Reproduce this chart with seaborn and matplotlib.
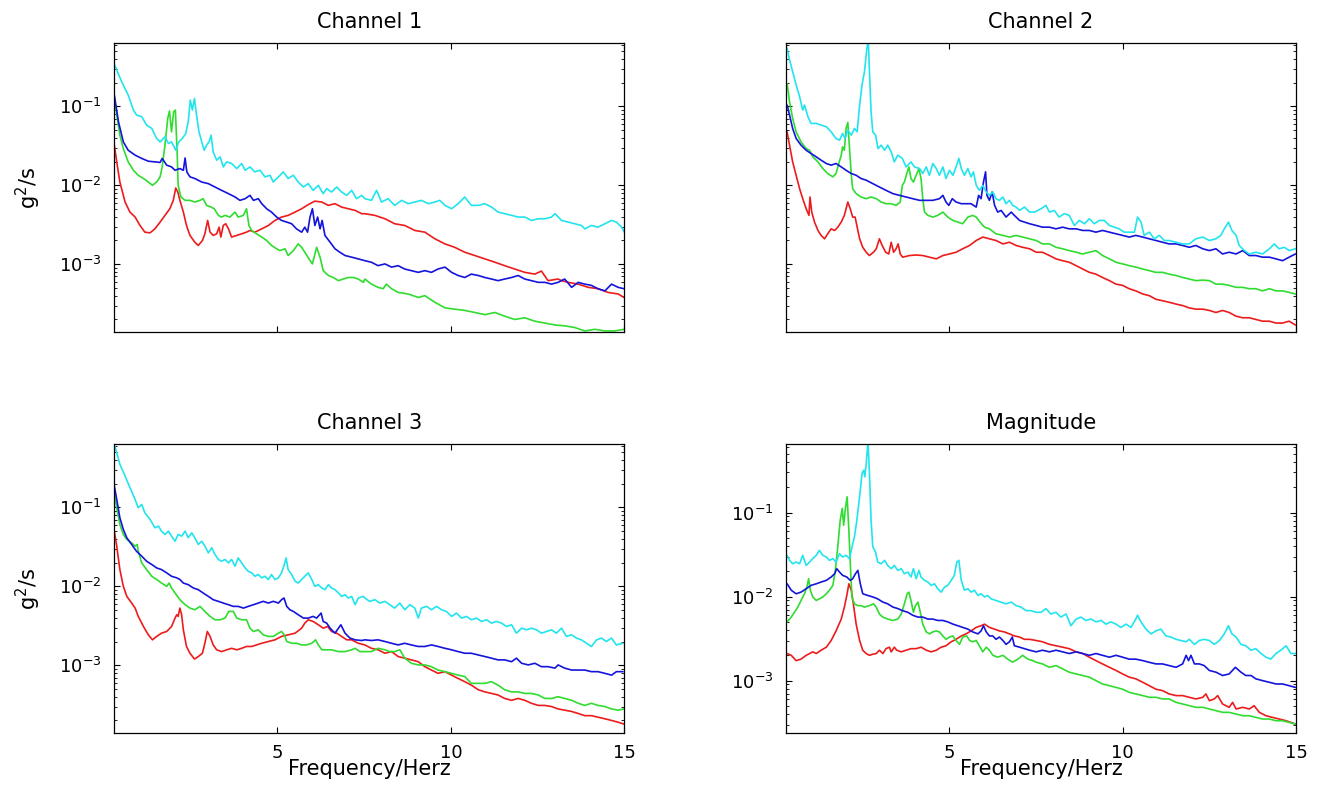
import numpy as np
import pandas as pd
import matplotlib
matplotlib.use("Agg")
import matplotlib.pyplot as plt
import matplotlib.ticker as mticker
import seaborn as sns

# ---------------- data: (frequency in Hz, PSD in g^2/s) ----------------
ch1_cyan = [(0.30,0.342),(0.51,0.206),(0.70,0.139),(0.85,0.0898),(0.94,0.0776),(1.09,0.074),(1.23,0.0579),(1.38,0.0525),(1.52,0.0392),(1.62,0.0355),(1.76,0.0412),(1.86,0.0339),(1.95,0.0355),(2.07,0.0278),(2.16,0.0355),(2.26,0.0392),(2.36,0.0454),(2.43,0.0638),(2.49,0.120),(2.55,0.0898),(2.61,0.126),(2.67,0.0776),(2.74,0.0476),(2.82,0.0355),(2.89,0.0278),(2.96,0.0323),(3.03,0.0355),(3.09,0.0432),(3.15,0.0265),(3.25,0.0208),(3.35,0.0229),(3.44,0.0171),(3.54,0.0198),(3.68,0.0189),(3.83,0.0163),(3.97,0.0189),(4.07,0.0155),(4.21,0.0171),(4.35,0.0148),(4.50,0.0155),(4.64,0.0128),(4.79,0.0134),(4.88,0.0110),(5.03,0.0128),(5.17,0.0148),(5.31,0.0122),(5.46,0.0134),(5.60,0.0110),(5.75,0.00952),(5.89,0.0105),(6.03,0.00864),(6.18,0.0100),(6.32,0.00784),(6.42,0.00907),(6.56,0.00823),(6.71,0.00952),(6.85,0.00823),(7.00,0.00746),(7.14,0.00864),(7.28,0.00677),(7.43,0.00746),(7.52,0.00677),(7.71,0.00645),(7.86,0.00864),(8.00,0.00614),(8.19,0.00677),(8.38,0.00557),(8.58,0.00645),(8.77,0.00585),(8.96,0.00614),(9.15,0.00645),(9.35,0.00585),(9.54,0.00614),(9.68,0.00645),(9.83,0.00557),(10.02,0.00505),(10.21,0.00585),(10.40,0.00711),(10.59,0.00557),(10.79,0.00557),(10.98,0.00585),(11.17,0.0053),(11.36,0.00458),(11.55,0.00437),(11.75,0.00416),(11.94,0.00396),(12.13,0.00396),(12.32,0.00359),(12.52,0.00377),(12.71,0.00377),(12.90,0.00396),(13.00,0.00437),(13.19,0.00359),(13.38,0.00342),(13.57,0.00326),(13.76,0.0031),(13.86,0.00281),(14.05,0.0031),(14.24,0.00295),(14.44,0.00326),(14.63,0.00359),(14.77,0.00342),(14.92,0.00295),(15.0,0.00255)]
ch1_blue = [(0.30,0.139),(0.42,0.0638),(0.56,0.0355),(0.70,0.0278),(0.90,0.0241),(1.09,0.0219),(1.28,0.0202),(1.47,0.0198),(1.62,0.0195),(1.68,0.0219),(1.81,0.0180),(1.95,0.0171),(2.05,0.0155),(2.19,0.0163),(2.29,0.0155),(2.34,0.0222),(2.39,0.0148),(2.48,0.0128),(2.62,0.0122),(2.82,0.0110),(3.01,0.0105),(3.20,0.00952),(3.39,0.00864),(3.59,0.00784),(3.78,0.00711),(3.92,0.00645),(4.07,0.00677),(4.21,0.00746),(4.31,0.00645),(4.45,0.00677),(4.55,0.00585),(4.69,0.00505),(4.83,0.00458),(4.98,0.00396),(5.12,0.00359),(5.27,0.00342),(5.41,0.00326),(5.55,0.00281),(5.70,0.00255),(5.79,0.00295),(5.87,0.00255),(5.94,0.00396),(6.01,0.00505),(6.08,0.0031),(6.16,0.00396),(6.23,0.00281),(6.29,0.00359),(6.37,0.00232),(6.52,0.0019),(6.66,0.00157),(6.80,0.00142),(6.95,0.00129),(7.14,0.00123),(7.33,0.00117),(7.52,0.00111),(7.71,0.00106),(7.90,0.00096),(8.10,0.00101),(8.29,0.00092),(8.48,0.00096),(8.67,0.00087),(8.86,0.00083),(9.06,0.00079),(9.25,0.00083),(9.44,0.00079),(9.63,0.00087),(9.83,0.00092),(10.02,0.00079),(10.21,0.00072),(10.40,0.00068),(10.59,0.00075),(10.79,0.00072),(10.98,0.00068),(11.17,0.00065),(11.36,0.00062),(11.55,0.00065),(11.75,0.00068),(11.94,0.00072),(12.13,0.00065),(12.32,0.00062),(12.52,0.00059),(12.71,0.00059),(12.90,0.00056),(13.09,0.00059),(13.28,0.00065),(13.48,0.00051),(13.67,0.00059),(13.86,0.00056),(14.05,0.00054),(14.24,0.00049),(14.44,0.00046),(14.63,0.00056),(14.82,0.00051),(14.99,0.00049)]
ch1_green = [(0.30,0.133),(0.37,0.0776),(0.46,0.0432),(0.56,0.0292),(0.70,0.0198),(0.85,0.0155),(0.99,0.0134),(1.14,0.0122),(1.28,0.0110),(1.40,0.0100),(1.52,0.0110),(1.62,0.0128),(1.68,0.0171),(1.76,0.0323),(1.84,0.0704),(1.89,0.0873),(1.95,0.0476),(2.01,0.0855),(2.06,0.0898),(2.11,0.0265),(2.14,0.0100),(2.22,0.00711),(2.34,0.00645),(2.48,0.00645),(2.62,0.00614),(2.77,0.00645),(2.86,0.00677),(2.96,0.00557),(3.09,0.0053),(3.18,0.00505),(3.30,0.00416),(3.39,0.00396),(3.49,0.00416),(3.63,0.00396),(3.78,0.00458),(3.87,0.00396),(4.02,0.00416),(4.11,0.00505),(4.18,0.0031),(4.26,0.00268),(4.40,0.00243),(4.55,0.00221),(4.69,0.0020),(4.83,0.00173),(4.98,0.00157),(5.07,0.00149),(5.22,0.00157),(5.31,0.00129),(5.46,0.00149),(5.60,0.00181),(5.70,0.00164),(5.79,0.00142),(5.91,0.00117),(6.01,0.00101),(6.13,0.00164),(6.23,0.00123),(6.32,0.00083),(6.47,0.00072),(6.61,0.00068),(6.76,0.00062),(6.90,0.00065),(7.04,0.00068),(7.19,0.00068),(7.33,0.00065),(7.48,0.00059),(7.52,0.00065),(7.71,0.00056),(7.90,0.00051),(8.05,0.00049),(8.14,0.00056),(8.29,0.00049),(8.48,0.00044),(8.77,0.00042),(9.06,0.00038),(9.25,0.0004),(9.54,0.00033),(9.83,0.00028),(10.11,0.00027),(10.40,0.00026),(10.69,0.000245),(10.98,0.00023),(11.27,0.000245),(11.55,0.00022),(11.84,0.0002),(12.13,0.00021),(12.42,0.00019),(12.71,0.00018),(13.00,0.00017),(13.28,0.000166),(13.57,0.000158),(13.86,0.000143),(14.15,0.00015),(14.44,0.000143),(14.72,0.000143),(14.99,0.00015)]
ch1_red = [(0.30,0.0323),(0.37,0.0198),(0.46,0.011),(0.61,0.00614),(0.75,0.00458),(0.90,0.00396),(1.04,0.0031),(1.18,0.00255),(1.33,0.0025),(1.47,0.00281),(1.62,0.00342),(1.76,0.00416),(1.90,0.00505),(2.00,0.00645),(2.07,0.00925),(2.13,0.00823),(2.19,0.00645),(2.29,0.00458),(2.38,0.0031),(2.48,0.00232),(2.62,0.0019),(2.72,0.00173),(2.84,0.002),(2.91,0.00243),(2.99,0.00359),(3.06,0.00255),(3.15,0.00232),(3.25,0.00243),(3.32,0.00295),(3.37,0.00221),(3.44,0.0031),(3.51,0.00326),(3.59,0.00281),(3.68,0.00221),(3.83,0.00232),(3.97,0.00243),(4.11,0.00255),(4.21,0.00268),(4.35,0.00255),(4.55,0.00281),(4.74,0.0031),(4.93,0.00359),(5.12,0.00396),(5.31,0.00416),(5.51,0.00458),(5.70,0.00505),(5.89,0.0057),(6.08,0.0063),(6.28,0.00614),(6.47,0.00557),(6.66,0.00585),(6.85,0.0053),(7.04,0.00505),(7.24,0.00481),(7.43,0.00437),(7.52,0.00437),(7.81,0.00416),(8.10,0.00377),(8.38,0.00326),(8.67,0.0031),(8.96,0.00268),(9.25,0.00255),(9.54,0.0021),(9.83,0.00181),(10.11,0.00164),(10.40,0.00142),(10.69,0.00129),(10.98,0.00117),(11.27,0.00106),(11.55,0.00096),(11.84,0.00087),(12.13,0.00079),(12.42,0.00075),(12.61,0.00082),(12.80,0.00062),(13.09,0.00065),(13.19,0.00062),(13.38,0.00059),(13.67,0.00056),(13.96,0.00051),(14.24,0.00049),(14.53,0.00044),(14.82,0.00042),(14.99,0.00038)]

ch2_cyan = [(0.33,0.546),(0.40,0.388),(0.49,0.276),(0.59,0.187),(0.69,0.133),(0.78,0.0898),(0.83,0.104),(0.93,0.074),(1.02,0.0608),(1.17,0.0608),(1.31,0.0579),(1.46,0.0552),(1.60,0.0476),(1.74,0.0392),(1.84,0.0373),(1.93,0.0454),(2.00,0.0392),(2.08,0.05),(2.18,0.0432),(2.27,0.0525),(2.35,0.0476),(2.42,0.104),(2.49,0.187),(2.56,0.276),(2.63,0.546),(2.67,0.70),(2.70,0.304),(2.75,0.0855),(2.80,0.0476),(2.88,0.0432),(2.95,0.0292),(3.04,0.0323),(3.14,0.0278),(3.23,0.0323),(3.33,0.0265),(3.42,0.0198),(3.52,0.0241),(3.65,0.0219),(3.76,0.0171),(3.90,0.0198),(4.00,0.0171),(4.15,0.0163),(4.24,0.0141),(4.34,0.0171),(4.43,0.0134),(4.53,0.0189),(4.63,0.0163),(4.72,0.0134),(4.82,0.0171),(4.91,0.0122),(5.01,0.0155),(5.11,0.0134),(5.20,0.0171),(5.28,0.0219),(5.35,0.0163),(5.44,0.0134),(5.54,0.0163),(5.63,0.0128),(5.70,0.0148),(5.78,0.0100),(5.87,0.00864),(5.97,0.0100),(6.07,0.00823),(6.16,0.00746),(6.26,0.00823),(6.35,0.00677),(6.45,0.00645),(6.55,0.00711),(6.64,0.00585),(6.74,0.00645),(6.83,0.00557),(6.93,0.0053),(7.03,0.00481),(7.17,0.0053),(7.32,0.00458),(7.46,0.00458),(7.65,0.00505),(7.79,0.00557),(7.89,0.00458),(8.03,0.00481),(8.17,0.00396),(8.32,0.00437),(8.46,0.00416),(8.61,0.0031),(8.75,0.00359),(8.90,0.00326),(9.04,0.00377),(9.18,0.00326),(9.33,0.00359),(9.47,0.00359),(9.62,0.0031),(9.76,0.00295),(9.90,0.00281),(10.05,0.00255),(10.19,0.00255),(10.34,0.00255),(10.43,0.00396),(10.53,0.00342),(10.62,0.00232),(10.77,0.00255),(10.91,0.0021),(11.06,0.00232),(11.20,0.002),(11.34,0.002),(11.54,0.0019),(11.73,0.00181),(11.92,0.00181),(12.11,0.0021),(12.31,0.00221),(12.50,0.002),(12.69,0.0021),(12.83,0.00232),(12.93,0.00281),(13.05,0.00342),(13.15,0.00268),(13.27,0.00232),(13.36,0.00173),(13.51,0.00149),(13.65,0.00135),(13.84,0.00142),(14.03,0.00135),(14.23,0.00157),(14.37,0.00181),(14.51,0.00157),(14.66,0.00164),(14.80,0.00149),(14.98,0.00157)]
ch2_blue = [(0.33,0.104),(0.40,0.0776),(0.49,0.0525),(0.59,0.0392),(0.73,0.0323),(0.88,0.0278),(1.02,0.0253),(1.17,0.0229),(1.31,0.0208),(1.46,0.0189),(1.60,0.018),(1.74,0.0189),(1.89,0.0171),(2.03,0.0155),(2.18,0.0141),(2.32,0.0134),(2.46,0.0122),(2.61,0.0116),(2.80,0.0105),(2.99,0.00952),(3.18,0.00864),(3.38,0.00784),(3.57,0.00746),(3.76,0.00711),(3.95,0.00677),(4.15,0.00645),(4.34,0.00645),(4.53,0.00645),(4.72,0.00677),(4.82,0.00746),(4.91,0.00614),(4.99,0.00557),(5.09,0.00677),(5.20,0.00614),(5.35,0.00585),(5.49,0.00585),(5.63,0.00585),(5.78,0.0053),(5.85,0.00746),(5.92,0.00677),(5.99,0.011),(6.05,0.0148),(6.09,0.00746),(6.16,0.00645),(6.24,0.00823),(6.31,0.00557),(6.40,0.00458),(6.50,0.00481),(6.64,0.00396),(6.79,0.00458),(6.88,0.00416),(7.03,0.00359),(7.17,0.00342),(7.32,0.00326),(7.51,0.0031),(7.69,0.00295),(7.89,0.00295),(8.08,0.00281),(8.27,0.00295),(8.46,0.00281),(8.66,0.00281),(8.85,0.00268),(9.04,0.00268),(9.23,0.00255),(9.42,0.00268),(9.62,0.00255),(9.81,0.00243),(10.0,0.00232),(10.19,0.00221),(10.38,0.00232),(10.58,0.00221),(10.77,0.0021),(10.96,0.002),(11.15,0.0019),(11.34,0.00181),(11.54,0.00181),(11.73,0.00173),(11.92,0.00164),(12.11,0.00173),(12.31,0.00157),(12.50,0.00149),(12.69,0.00157),(12.88,0.00135),(13.07,0.00142),(13.27,0.00135),(13.46,0.00149),(13.65,0.00129),(13.84,0.00129),(14.03,0.00123),(14.23,0.00123),(14.42,0.00117),(14.61,0.00111),(14.80,0.00123),(14.98,0.00135)]
ch2_green = [(0.33,0.196),(0.40,0.115),(0.49,0.0704),(0.59,0.0476),(0.73,0.0355),(0.88,0.0292),(0.98,0.0278),(1.07,0.0229),(1.22,0.0198),(1.36,0.0163),(1.50,0.0141),(1.65,0.0128),(1.74,0.0141),(1.82,0.0189),(1.89,0.0241),(1.93,0.0307),(1.98,0.0278),(2.03,0.0525),(2.08,0.0626),(2.13,0.0292),(2.18,0.0134),(2.22,0.00907),(2.32,0.00784),(2.46,0.00711),(2.61,0.00677),(2.75,0.00711),(2.90,0.00677),(3.04,0.00614),(3.18,0.00585),(3.33,0.00585),(3.47,0.00557),(3.59,0.00614),(3.65,0.0100),(3.71,0.011),(3.78,0.0141),(3.84,0.0171),(3.90,0.0122),(3.97,0.011),(4.05,0.0134),(4.13,0.0163),(4.19,0.0122),(4.24,0.00677),(4.29,0.00458),(4.39,0.00416),(4.53,0.00396),(4.67,0.00416),(4.82,0.00458),(4.96,0.00396),(5.11,0.00359),(5.25,0.00342),(5.39,0.00326),(5.54,0.00396),(5.68,0.00416),(5.78,0.00396),(5.89,0.00342),(6.02,0.00295),(6.16,0.00281),(6.35,0.00243),(6.55,0.00232),(6.74,0.00221),(6.93,0.00232),(7.12,0.00221),(7.32,0.0021),(7.51,0.002),(7.69,0.00181),(7.89,0.00181),(8.08,0.00164),(8.27,0.00157),(8.46,0.00149),(8.66,0.00142),(8.85,0.00135),(9.04,0.00142),(9.23,0.00149),(9.42,0.00129),(9.62,0.00117),(9.81,0.00106),(10.0,0.00101),(10.19,0.00096),(10.38,0.00092),(10.58,0.00087),(10.77,0.00083),(10.96,0.00079),(11.15,0.00079),(11.34,0.00075),(11.54,0.00072),(11.73,0.00068),(11.92,0.00065),(12.11,0.00062),(12.31,0.00063),(12.50,0.00062),(12.69,0.00056),(12.88,0.00056),(13.07,0.00054),(13.27,0.00051),(13.46,0.00051),(13.65,0.00049),(13.84,0.00049),(14.03,0.00046),(14.23,0.00049),(14.42,0.00046),(14.61,0.00046),(14.80,0.00044),(14.98,0.00042)]
ch2_red = [(0.33,0.0476),(0.40,0.0323),(0.49,0.0198),(0.59,0.0134),(0.69,0.00907),(0.78,0.00677),(0.88,0.00505),(0.96,0.00416),(0.99,0.00711),(1.04,0.00458),(1.12,0.00342),(1.22,0.00268),(1.31,0.00232),(1.41,0.0021),(1.50,0.00243),(1.60,0.00281),(1.70,0.00268),(1.79,0.00295),(1.89,0.00342),(1.98,0.00416),(2.08,0.00614),(2.15,0.00505),(2.22,0.00396),(2.29,0.00396),(2.34,0.0031),(2.42,0.0021),(2.51,0.00164),(2.61,0.00142),(2.70,0.00129),(2.82,0.00142),(2.90,0.00157),(2.99,0.0021),(3.07,0.00173),(3.17,0.00142),(3.26,0.00135),(3.33,0.0019),(3.40,0.00142),(3.47,0.00157),(3.53,0.00181),(3.59,0.00135),(3.66,0.00123),(3.86,0.00129),(4.05,0.00131),(4.24,0.00129),(4.43,0.00123),(4.63,0.00117),(4.82,0.00129),(5.01,0.00135),(5.20,0.00142),(5.39,0.00157),(5.59,0.00173),(5.78,0.002),(5.97,0.00221),(6.16,0.0021),(6.35,0.002),(6.55,0.00181),(6.74,0.0019),(6.93,0.00173),(7.12,0.00164),(7.32,0.00157),(7.51,0.00142),(7.69,0.00142),(7.89,0.00129),(8.08,0.00117),(8.27,0.00111),(8.46,0.00106),(8.66,0.00096),(8.85,0.00087),(9.04,0.00079),(9.23,0.00075),(9.42,0.00068),(9.62,0.00062),(9.81,0.00056),(10.0,0.00054),(10.19,0.00049),(10.38,0.00046),(10.58,0.00042),(10.77,0.0004),(10.96,0.00036),(11.15,0.000345),(11.34,0.00033),(11.54,0.000313),(11.73,0.0003),(11.92,0.00028),(12.11,0.00027),(12.31,0.00027),(12.50,0.00026),(12.69,0.000245),(12.88,0.00026),(13.07,0.000245),(13.27,0.00022),(13.46,0.00021),(13.65,0.00021),(13.84,0.0002),(14.03,0.00019),(14.23,0.00019),(14.42,0.00018),(14.61,0.00018),(14.80,0.00019),(14.98,0.00017)]

ch3_cyan = [(0.30,0.63),(0.37,0.495),(0.46,0.352),(0.61,0.25),(0.75,0.178),(0.90,0.126),(0.99,0.0990),(1.09,0.109),(1.18,0.0855),(1.33,0.0704),(1.47,0.0552),(1.57,0.0579),(1.66,0.05),(1.76,0.0454),(1.86,0.05),(1.95,0.0432),(2.05,0.0373),(2.14,0.0454),(2.24,0.0432),(2.34,0.05),(2.43,0.0412),(2.53,0.0476),(2.62,0.0412),(2.72,0.0339),(2.82,0.0373),(2.91,0.0323),(3.01,0.0265),(3.11,0.0307),(3.20,0.0253),(3.30,0.0219),(3.39,0.0208),(3.49,0.0219),(3.59,0.0198),(3.68,0.0219),(3.78,0.018),(3.87,0.0229),(3.97,0.0198),(4.07,0.0171),(4.16,0.0155),(4.26,0.0148),(4.35,0.0134),(4.45,0.0141),(4.55,0.0128),(4.64,0.0134),(4.74,0.0122),(4.83,0.0141),(4.93,0.0122),(5.03,0.0128),(5.12,0.0148),(5.20,0.0189),(5.25,0.0229),(5.31,0.0163),(5.41,0.0141),(5.51,0.0116),(5.60,0.011),(5.70,0.0122),(5.79,0.0134),(5.89,0.0148),(5.99,0.0122),(6.08,0.0100),(6.18,0.0105),(6.28,0.00952),(6.37,0.00907),(6.47,0.0105),(6.56,0.00952),(6.66,0.00907),(6.76,0.00823),(6.85,0.00746),(6.95,0.00784),(7.04,0.00711),(7.14,0.00746),(7.24,0.00585),(7.33,0.00711),(7.48,0.00746),(7.52,0.00711),(7.66,0.00645),(7.81,0.00677),(7.95,0.00614),(8.10,0.00645),(8.24,0.00585),(8.38,0.0053),(8.53,0.00614),(8.67,0.00505),(8.82,0.00585),(8.96,0.0053),(9.06,0.00396),(9.15,0.0053),(9.30,0.00557),(9.44,0.00505),(9.59,0.00557),(9.73,0.00505),(9.87,0.00481),(10.02,0.00416),(10.16,0.00458),(10.31,0.00396),(10.45,0.00416),(10.59,0.00377),(10.74,0.00396),(10.88,0.00359),(11.03,0.00377),(11.17,0.00342),(11.31,0.00359),(11.46,0.00342),(11.60,0.0031),(11.75,0.00326),(11.89,0.00255),(12.04,0.00295),(12.18,0.00281),(12.32,0.00295),(12.47,0.00281),(12.61,0.00255),(12.76,0.00268),(12.90,0.00281),(13.04,0.00255),(13.19,0.00295),(13.33,0.00232),(13.48,0.00243),(13.62,0.00221),(13.76,0.0021),(13.91,0.0019),(14.05,0.00173),(14.20,0.0021),(14.34,0.00221),(14.48,0.002),(14.63,0.00221),(14.77,0.00181),(14.96,0.0019)]
ch3_blue = [(0.30,0.187),(0.37,0.126),(0.46,0.074),(0.56,0.0525),(0.66,0.0412),(0.80,0.0339),(0.94,0.0278),(1.09,0.0241),(1.23,0.0208),(1.38,0.0189),(1.52,0.0171),(1.66,0.0163),(1.81,0.0148),(1.95,0.0134),(2.10,0.0128),(2.19,0.0122),(2.29,0.011),(2.43,0.0105),(2.58,0.00952),(2.72,0.00907),(2.86,0.00823),(3.01,0.00746),(3.15,0.00677),(3.30,0.00645),(3.44,0.00614),(3.59,0.00585),(3.73,0.00557),(3.87,0.00557),(4.02,0.0053),(4.16,0.00557),(4.31,0.00585),(4.45,0.00614),(4.59,0.00645),(4.74,0.00614),(4.88,0.00645),(5.03,0.00614),(5.12,0.00677),(5.19,0.00711),(5.27,0.00557),(5.36,0.00505),(5.46,0.00481),(5.60,0.00437),(5.75,0.00396),(5.89,0.00396),(6.03,0.00416),(6.13,0.00396),(6.26,0.00458),(6.32,0.00359),(6.42,0.00342),(6.52,0.00295),(6.66,0.00255),(6.76,0.00295),(6.83,0.00326),(6.95,0.00255),(7.09,0.00221),(7.24,0.0021),(7.43,0.00206),(7.52,0.0021),(7.71,0.00206),(7.90,0.0021),(8.10,0.002),(8.29,0.0019),(8.48,0.00181),(8.67,0.0019),(8.86,0.00181),(9.06,0.00173),(9.25,0.00173),(9.44,0.00181),(9.63,0.00173),(9.83,0.00164),(10.02,0.00157),(10.21,0.00149),(10.40,0.00142),(10.59,0.00142),(10.79,0.00135),(10.98,0.00129),(11.17,0.00123),(11.36,0.00117),(11.55,0.00117),(11.75,0.00111),(11.89,0.00123),(12.04,0.00106),(12.23,0.00101),(12.42,0.00106),(12.61,0.00096),(12.80,0.00096),(13.00,0.00092),(13.09,0.00101),(13.28,0.00092),(13.48,0.00087),(13.67,0.00087),(13.86,0.00087),(14.05,0.00083),(14.24,0.00083),(14.44,0.00079),(14.63,0.00075),(14.77,0.00083),(14.96,0.00083)]
ch3_green = [(0.30,0.154),(0.37,0.099),(0.46,0.0608),(0.56,0.0454),(0.66,0.0392),(0.80,0.0355),(0.90,0.0323),(0.96,0.0339),(0.99,0.0278),(1.09,0.0198),(1.23,0.0163),(1.38,0.0134),(1.52,0.0122),(1.66,0.011),(1.81,0.01),(1.88,0.011),(1.95,0.00952),(2.05,0.00823),(2.19,0.00677),(2.34,0.00585),(2.48,0.0053),(2.62,0.00505),(2.77,0.00557),(2.91,0.00481),(3.06,0.00416),(3.20,0.00377),(3.35,0.00377),(3.49,0.00396),(3.60,0.00481),(3.73,0.00481),(3.83,0.00396),(3.97,0.00377),(4.11,0.00377),(4.21,0.00295),(4.31,0.00268),(4.45,0.00281),(4.59,0.00243),(4.74,0.00232),(4.88,0.00232),(5.03,0.00255),(5.12,0.00268),(5.20,0.00243),(5.27,0.002),(5.41,0.0019),(5.55,0.0019),(5.70,0.00181),(5.84,0.00181),(5.99,0.0019),(6.10,0.0021),(6.18,0.00181),(6.28,0.00157),(6.42,0.00157),(6.56,0.00157),(6.76,0.00149),(6.95,0.00149),(7.14,0.00157),(7.24,0.00164),(7.38,0.00149),(7.52,0.00149),(7.71,0.00149),(7.90,0.00164),(8.10,0.00157),(8.24,0.00149),(8.38,0.00149),(8.53,0.00157),(8.67,0.00123),(8.86,0.00106),(9.06,0.00101),(9.25,0.00101),(9.44,0.00096),(9.63,0.00087),(9.83,0.00083),(10.02,0.00079),(10.21,0.00075),(10.40,0.00072),(10.59,0.00059),(10.79,0.00059),(10.98,0.00059),(11.17,0.00062),(11.36,0.00056),(11.55,0.00049),(11.75,0.00046),(11.94,0.00046),(12.13,0.00044),(12.32,0.00044),(12.52,0.00042),(12.71,0.00038),(12.90,0.00038),(13.09,0.0004),(13.28,0.00038),(13.48,0.00036),(13.67,0.00033),(13.86,0.00031),(14.05,0.00033),(14.24,0.00031),(14.44,0.0003),(14.63,0.00028),(14.82,0.00027),(14.99,0.00028)]
ch3_red = [(0.30,0.05),(0.37,0.0323),(0.46,0.0163),(0.56,0.01),(0.66,0.00746),(0.80,0.00614),(0.90,0.0053),(0.99,0.00416),(1.14,0.0031),(1.28,0.00243),(1.40,0.0021),(1.52,0.00232),(1.66,0.00255),(1.81,0.00268),(1.95,0.0031),(2.05,0.00396),(2.10,0.00437),(2.14,0.00416),(2.19,0.0053),(2.24,0.00437),(2.29,0.00281),(2.38,0.00173),(2.48,0.00142),(2.61,0.0012),(2.72,0.00129),(2.84,0.00142),(2.91,0.0019),(2.98,0.00268),(3.06,0.00232),(3.15,0.00181),(3.25,0.00157),(3.39,0.00149),(3.54,0.00157),(3.68,0.00164),(3.83,0.00157),(3.97,0.00164),(4.11,0.00173),(4.26,0.00173),(4.40,0.00181),(4.55,0.0019),(4.74,0.002),(4.93,0.0021),(5.12,0.00232),(5.31,0.00243),(5.51,0.00255),(5.70,0.00295),(5.79,0.00342),(5.89,0.00377),(6.03,0.00359),(6.18,0.00326),(6.32,0.00295),(6.45,0.0031),(6.56,0.00268),(6.71,0.00255),(6.85,0.00232),(7.00,0.0021),(7.14,0.0021),(7.33,0.0019),(7.52,0.00181),(7.71,0.00164),(7.90,0.00157),(8.10,0.00142),(8.29,0.00149),(8.48,0.00129),(8.67,0.00123),(8.86,0.00117),(9.06,0.00111),(9.25,0.00096),(9.44,0.00087),(9.63,0.00079),(9.83,0.00083),(10.02,0.00075),(10.21,0.00068),(10.40,0.00062),(10.59,0.00056),(10.79,0.00049),(10.98,0.00046),(11.17,0.00044),(11.36,0.00042),(11.55,0.00038),(11.75,0.00036),(11.94,0.00038),(12.13,0.00036),(12.32,0.00033),(12.52,0.00031),(12.71,0.00031),(12.90,0.0003),(13.09,0.00028),(13.28,0.00027),(13.48,0.00026),(13.67,0.000245),(13.86,0.00023),(14.05,0.00023),(14.24,0.00022),(14.44,0.00021),(14.63,0.0002),(14.82,0.00019),(14.99,0.00018)]

mag_cyan = [(0.33,0.0310),(0.40,0.0270),(0.49,0.0246),(0.59,0.0258),(0.69,0.0246),(0.78,0.0310),(0.88,0.0235),(0.98,0.0258),(1.07,0.0283),(1.17,0.0310),(1.26,0.0355),(1.36,0.0310),(1.46,0.0296),(1.55,0.0270),(1.65,0.0283),(1.74,0.0258),(1.84,0.0324),(1.93,0.0296),(2.03,0.0310),(2.13,0.0283),(2.20,0.0390),(2.27,0.0512),(2.34,0.0810),(2.42,0.154),(2.49,0.292),(2.54,0.320),(2.57,0.266),(2.61,0.384),(2.66,0.70),(2.70,0.320),(2.75,0.0810),(2.80,0.0390),(2.88,0.0339),(2.94,0.0258),(3.04,0.0246),(3.14,0.0270),(3.23,0.0235),(3.33,0.0215),(3.42,0.0235),(3.52,0.0205),(3.62,0.0215),(3.71,0.0187),(3.81,0.0196),(3.90,0.0171),(3.97,0.0215),(4.05,0.0163),(4.13,0.0205),(4.19,0.0171),(4.29,0.0156),(4.39,0.0149),(4.48,0.0136),(4.58,0.0142),(4.67,0.0124),(4.77,0.0113),(4.87,0.0130),(4.96,0.0136),(5.06,0.0156),(5.15,0.0179),(5.22,0.0258),(5.28,0.0270),(5.35,0.0156),(5.44,0.0119),(5.54,0.0124),(5.63,0.0113),(5.73,0.0119),(5.83,0.0103),(5.92,0.0108),(6.02,0.0099),(6.11,0.0103),(6.21,0.0094),(6.35,0.0090),(6.50,0.0086),(6.64,0.0082),(6.79,0.0086),(6.93,0.0078),(7.07,0.0075),(7.22,0.0068),(7.36,0.0068),(7.51,0.0065),(7.65,0.0065),(7.79,0.0072),(7.93,0.0062),(8.08,0.0065),(8.22,0.0057),(8.37,0.0062),(8.51,0.0045),(8.66,0.0054),(8.80,0.0057),(8.94,0.0052),(9.09,0.0054),(9.23,0.0050),(9.38,0.0052),(9.52,0.0047),(9.66,0.0050),(9.81,0.0047),(9.95,0.0043),(10.10,0.0047),(10.24,0.0043),(10.38,0.0054),(10.43,0.0060),(10.53,0.0050),(10.67,0.0041),(10.82,0.0036),(10.96,0.0039),(11.10,0.0041),(11.25,0.0034),(11.39,0.0033),(11.54,0.0031),(11.68,0.0030),(11.83,0.0029),(11.92,0.0031),(12.07,0.0027),(12.21,0.0030),(12.35,0.0031),(12.50,0.0030),(12.64,0.0027),(12.79,0.0030),(12.93,0.0036),(13.05,0.0045),(13.15,0.0036),(13.27,0.0033),(13.41,0.0027),(13.55,0.0026),(13.70,0.0023),(13.84,0.0024),(13.99,0.0021),(14.13,0.0019),(14.27,0.0018),(14.42,0.0021),(14.56,0.0023),(14.71,0.0026),(14.85,0.0021),(14.98,0.0021)]
mag_blue = [(0.33,0.0142),(0.45,0.0119),(0.59,0.0108),(0.73,0.0113),(0.88,0.0124),(1.02,0.0136),(1.17,0.0142),(1.31,0.0149),(1.46,0.0156),(1.60,0.0171),(1.70,0.0187),(1.76,0.0215),(1.84,0.0196),(1.93,0.0179),(2.05,0.0171),(2.15,0.0156),(2.22,0.0163),(2.30,0.0187),(2.37,0.0205),(2.44,0.0142),(2.51,0.0108),(2.66,0.0103),(2.80,0.0099),(2.94,0.0094),(3.09,0.0086),(3.23,0.0082),(3.38,0.0075),(3.52,0.0072),(3.66,0.0068),(3.81,0.0065),(3.95,0.0060),(4.10,0.0057),(4.24,0.0057),(4.39,0.0054),(4.53,0.0054),(4.67,0.0052),(4.82,0.0052),(4.96,0.0050),(5.11,0.0047),(5.25,0.0045),(5.39,0.0043),(5.54,0.0041),(5.68,0.0038),(5.83,0.0036),(5.92,0.0039),(5.99,0.0045),(6.07,0.0038),(6.16,0.0034),(6.26,0.0034),(6.35,0.0031),(6.45,0.0033),(6.55,0.0030),(6.64,0.0027),(6.74,0.0029),(6.82,0.0033),(6.88,0.0026),(7.03,0.0025),(7.17,0.0024),(7.32,0.0023),(7.51,0.0022),(7.69,0.0023),(7.89,0.0022),(8.08,0.0023),(8.27,0.0022),(8.46,0.0021),(8.66,0.0022),(8.85,0.0021),(9.04,0.0020),(9.23,0.0021),(9.42,0.0020),(9.62,0.0019),(9.81,0.0020),(10.0,0.0019),(10.19,0.0018),(10.38,0.0018),(10.58,0.00173),(10.77,0.00165),(10.96,0.00158),(11.15,0.00158),(11.34,0.00151),(11.54,0.00144),(11.73,0.00158),(11.83,0.0020),(11.90,0.00173),(11.97,0.0020),(12.07,0.00158),(12.21,0.00158),(12.35,0.00151),(12.50,0.00132),(12.69,0.00126),(12.88,0.00115),(13.07,0.0012),(13.25,0.00144),(13.41,0.00126),(13.55,0.00115),(13.70,0.00115),(13.84,0.00105),(14.03,0.0010),(14.23,0.000955),(14.42,0.000912),(14.61,0.000912),(14.80,0.00087),(14.98,0.00083)]
mag_green = [(0.33,0.0050),(0.45,0.0057),(0.54,0.0065),(0.64,0.0075),(0.73,0.0090),(0.83,0.0108),(0.90,0.0130),(0.95,0.0163),(1.00,0.0119),(1.07,0.0099),(1.17,0.0090),(1.26,0.0094),(1.36,0.0099),(1.46,0.0108),(1.55,0.0119),(1.65,0.0136),(1.72,0.0205),(1.79,0.0390),(1.86,0.0810),(1.92,0.112),(1.96,0.0706),(2.01,0.112),(2.06,0.154),(2.11,0.0615),(2.16,0.0205),(2.20,0.0099),(2.27,0.0082),(2.37,0.0078),(2.46,0.0078),(2.56,0.0075),(2.70,0.0078),(2.82,0.0082),(2.90,0.0075),(2.99,0.0062),(3.09,0.0057),(3.23,0.0054),(3.38,0.0052),(3.52,0.0054),(3.62,0.0062),(3.71,0.0082),(3.79,0.0108),(3.84,0.0113),(3.90,0.0090),(3.97,0.0065),(4.03,0.0078),(4.10,0.0086),(4.16,0.0068),(4.24,0.0047),(4.34,0.0038),(4.43,0.0036),(4.53,0.0038),(4.63,0.0039),(4.72,0.0038),(4.82,0.0034),(4.91,0.0031),(5.01,0.0033),(5.11,0.0034),(5.20,0.0030),(5.30,0.0027),(5.39,0.0033),(5.51,0.0034),(5.59,0.0030),(5.68,0.0029),(5.78,0.0030),(5.87,0.0026),(5.97,0.0022),(6.07,0.0025),(6.16,0.0023),(6.26,0.0020),(6.40,0.0019),(6.55,0.0020),(6.69,0.0018),(6.83,0.00166),(6.98,0.0018),(7.12,0.0020),(7.27,0.0018),(7.41,0.00173),(7.50,0.00166),(7.69,0.00158),(7.89,0.00144),(8.08,0.00151),(8.27,0.00138),(8.46,0.00126),(8.66,0.0012),(8.85,0.00115),(9.04,0.0011),(9.23,0.0010),(9.42,0.000912),(9.62,0.00087),(9.81,0.00083),(10.0,0.00079),(10.19,0.000726),(10.38,0.000694),(10.58,0.000663),(10.77,0.000633),(10.96,0.000633),(11.15,0.000605),(11.34,0.000605),(11.54,0.000551),(11.73,0.000527),(11.92,0.000503),(12.11,0.000481),(12.31,0.000481),(12.50,0.000459),(12.69,0.000439),(12.88,0.000419),(13.07,0.000419),(13.27,0.0004),(13.46,0.000382),(13.65,0.000382),(13.84,0.000365),(14.03,0.000349),(14.23,0.000349),(14.42,0.000333),(14.61,0.000333),(14.80,0.000318),(14.98,0.000304)]
mag_red = [(0.33,0.0021),(0.45,0.0020),(0.59,0.00173),(0.73,0.0018),(0.88,0.0020),(0.98,0.0021),(1.07,0.0022),(1.17,0.0021),(1.31,0.0023),(1.46,0.0025),(1.60,0.0030),(1.74,0.0039),(1.89,0.0054),(1.98,0.0075),(2.05,0.0103),(2.11,0.0142),(2.18,0.0119),(2.24,0.0082),(2.32,0.0047),(2.42,0.0030),(2.51,0.0023),(2.61,0.0021),(2.70,0.0020),(2.80,0.00206),(2.90,0.0021),(2.99,0.0023),(3.09,0.0021),(3.18,0.0024),(3.28,0.0025),(3.33,0.0022),(3.42,0.0025),(3.49,0.0023),(3.62,0.0022),(3.76,0.0023),(3.90,0.0024),(4.05,0.0024),(4.19,0.0025),(4.34,0.0023),(4.48,0.0022),(4.63,0.0023),(4.77,0.0025),(4.91,0.0026),(5.06,0.0029),(5.20,0.0031),(5.35,0.0034),(5.49,0.0036),(5.63,0.0039),(5.78,0.0043),(5.92,0.0045),(6.02,0.0047),(6.16,0.0043),(6.31,0.0041),(6.45,0.0039),(6.59,0.0038),(6.74,0.0036),(6.88,0.0034),(7.03,0.0033),(7.17,0.0031),(7.32,0.0031),(7.51,0.0030),(7.69,0.0029),(7.89,0.0027),(8.08,0.0026),(8.27,0.0025),(8.46,0.0024),(8.66,0.0022),(8.85,0.0021),(9.04,0.0019),(9.23,0.00173),(9.42,0.00158),(9.62,0.00144),(9.81,0.00132),(10.0,0.0012),(10.19,0.0011),(10.38,0.00105),(10.58,0.000955),(10.77,0.00087),(10.96,0.00079),(11.15,0.00076),(11.34,0.000694),(11.54,0.000663),(11.73,0.000663),(11.92,0.000633),(12.11,0.000605),(12.31,0.000633),(12.40,0.000694),(12.50,0.000577),(12.64,0.000605),(12.74,0.000663),(12.88,0.000527),(13.07,0.000481),(13.17,0.000551),(13.27,0.000459),(13.46,0.000481),(13.65,0.000459),(13.79,0.000503),(13.94,0.000419),(14.13,0.000382),(14.32,0.000365),(14.51,0.000349),(14.71,0.000333),(14.85,0.000318),(14.98,0.000304)]

titles = ["Channel 1", "Channel 2", "Channel 3", "Magnitude"]
x_ticks = [5, 10, 15]
x_label = "Frequency/Herz"
y_label = "g$^2$/s"
series_names = ["red", "green", "blue", "cyan"]

panels = [
    {"red": ch1_red, "green": ch1_green, "blue": ch1_blue, "cyan": ch1_cyan},
    {"red": ch2_red, "green": ch2_green, "blue": ch2_blue, "cyan": ch2_cyan},
    {"red": ch3_red, "green": ch3_green, "blue": ch3_blue, "cyan": ch3_cyan},
    {"red": mag_red, "green": mag_green, "blue": mag_blue, "cyan": mag_cyan},
]

# ---------------- styling ----------------
sns.set_theme(style="white")
plt.rcParams['font.family'] = ['DejaVu Sans']
plt.rcParams['mathtext.fontset'] = 'dejavusans'
plt.rcParams['text.color'] = 'black'
plt.rcParams['axes.labelcolor'] = 'black'
plt.rcParams['xtick.color'] = 'black'
plt.rcParams['ytick.color'] = 'black'

palette = {"cyan": "#22e4ee", "blue": "#1414dc", "green": "#30dc30", "red": "#ec1c1c"}

fig = plt.figure(figsize=(13.2, 7.88), dpi=100)
W, H = 0.3864, 0.3660
positions = [(0.0866, 0.5791), (0.5955, 0.5791), (0.0866, 0.0702), (0.5955, 0.0702)]
ylims = [(1.4e-4, 0.63), (1.4e-4, 0.63), (1.4e-4, 0.63), (2.4e-4, 0.65)]

for i, (pos, data) in enumerate(zip(positions, panels)):
    ax = fig.add_axes([pos[0], pos[1], W, H])
    frames = []
    for name in series_names:
        f, p = zip(*data[name])
        frames.append(pd.DataFrame({"freq": f, "psd": p, "series": name}))
    df = pd.concat(frames, ignore_index=True)
    sns.lineplot(data=df, x="freq", y="psd", hue="series", hue_order=series_names,
                 palette=palette, estimator=None, legend=False, linewidth=1.2, ax=ax)
    ax.set_yscale("log")
    ax.set_xlim(0.3, 15)
    ax.set_ylim(*ylims[i])
    ax.set_xticks(x_ticks)
    ax.yaxis.set_major_locator(mticker.LogLocator(base=10, numticks=10))
    ax.yaxis.set_minor_locator(mticker.LogLocator(base=10, subs=np.arange(2, 10), numticks=20))
    ax.yaxis.set_minor_formatter(mticker.NullFormatter())
    ax.tick_params(which="both", direction="in", top=True, right=True, left=True, bottom=True,
                   color="black", labelcolor="black")
    ax.tick_params(which="major", length=4, width=0.8, labelsize=13)
    ax.tick_params(axis="y", which="major", pad=9)
    ax.tick_params(axis="x", which="major", pad=8)
    ax.tick_params(which="minor", length=2.2, width=0.6)
    ax.tick_params(axis="x", which="minor", top=False, bottom=False)
    for sp in ax.spines.values():
        sp.set_color("black")
        sp.set_linewidth(0.9)
    ax.set_title(titles[i], fontsize=15, pad=11, color="black")
    if i >= 2:
        ax.set_xlabel(x_label, fontsize=15, va="top", color="black")
        ax.xaxis.set_label_coords(0.5, -0.09)
    else:
        ax.set_xlabel("")
        ax.tick_params(axis="x", labelbottom=False)
    if i in (0, 2):
        ax.set_ylabel(y_label, fontsize=15, color="black")
        ax.yaxis.set_label_coords(-0.14, 0.5)
    else:
        ax.set_ylabel("")
    if i == 1:
        ax.tick_params(axis="y", labelleft=False)

fig.savefig("out.png", dpi=100)
